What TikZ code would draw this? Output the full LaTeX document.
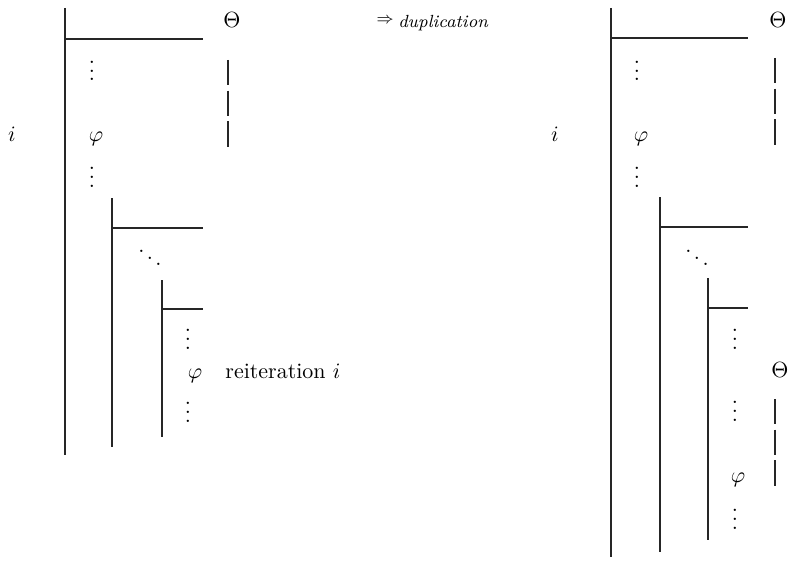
\documentclass[tikz,border=0pt]{standalone}
\usepackage{amsmath,amssymb}
\usepackage{tikz}

\begin{document}
\begin{tikzpicture}[
    x=0.016cm, y=-0.016cm,
    bar/.style={line width=0.75pt, draw=black!85},
    hyp/.style={line width=0.75pt, draw=black!85, dash pattern=on 11.5pt off 2.5pt},
    sym/.style={anchor=base, inner sep=0pt},
    dotsv/.style={anchor=base, inner sep=0pt}
]
\useasboundingbox (0,0) rectangle (793,566);

% before duplication
\draw[bar] (65,8) -- (65,455);
\draw[bar] (65,39) -- (203,39);
\draw[bar] (112,198) -- (112,447);
\draw[bar] (112,228) -- (203,228);
\draw[bar] (162,280) -- (162,437);
\draw[bar] (162,309) -- (203,309);
\draw[hyp] (228,60) -- (228,148);

\node[sym] (thetaL) at (232,28) {$\Theta$};
\node[sym] (iL) at (12,141) {$i$};
\node[sym] (phiL) at (96,141) {$\varphi$};
\node[dotsv] (vdLa) at (92,81) {$\vdots$};
\node[dotsv] (vdLb) at (92,187) {$\vdots$};
\node[dotsv] (ddL) at (150,268) {$\ddots$};
\node[dotsv] (vdLc) at (188,349) {$\vdots$};
\node[sym] (phiLr) at (195,378) {$\varphi$};
\node[anchor=base west, inner sep=0pt] (reit) at (225,378) {reiteration $i$};
\node[dotsv] (vdLd) at (188,422) {$\vdots$};

% rule name
\node[anchor=base west, inner sep=0pt] (dup) at (376,24)
    {\scriptsize$\Rightarrow$\hspace{2pt}\raisebox{-1.8pt}{\footnotesize\itshape duplication}};

% after duplication
\draw[bar] (611,8) -- (611,557);
\draw[bar] (611,38) -- (748,38);
\draw[bar] (660,197) -- (660,552);
\draw[bar] (660,227) -- (748,227);
\draw[bar] (708,278) -- (708,540);
\draw[bar] (708,308) -- (748,308);
\draw[hyp] (775,58) -- (775,147);
\draw[hyp] (775,399) -- (775,488);

\node[sym] (thetaR) at (778,28) {$\Theta$};
\node[sym] (iR) at (555,141) {$i$};
\node[sym] (phiR) at (641,141) {$\varphi$};
\node[dotsv] (vdRa) at (637,81) {$\vdots$};
\node[dotsv] (vdRb) at (637,187) {$\vdots$};
\node[dotsv] (ddR) at (697,268) {$\ddots$};
\node[dotsv] (vdRc) at (735,349) {$\vdots$};
\node[sym] (thetaR2) at (780,377) {$\Theta$};
\node[dotsv] (vdRd) at (735,421) {$\vdots$};
\node[sym] (phiR2) at (738,482) {$\varphi$};
\node[dotsv] (vdRe) at (735,529) {$\vdots$};
\end{tikzpicture}
\end{document}
